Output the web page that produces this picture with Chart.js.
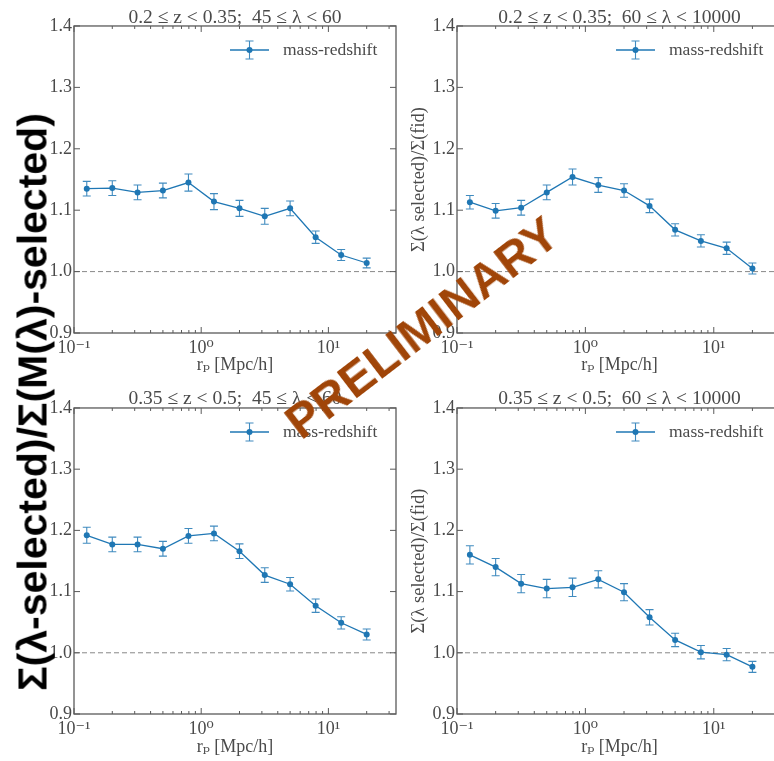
<!DOCTYPE html>
<html><head><meta charset="utf-8">
<script src="https://cdn.jsdelivr.net/npm/chart.js@4/dist/chart.umd.min.js"></script>
<style>
html,body{margin:0;padding:0;background:#fff;overflow:hidden;}
#wrap{position:relative;width:774px;height:761px;overflow:hidden;background:#fff;}
canvas{position:absolute;}
#biglabel{position:absolute;left:33px;top:402px;transform:translate(-50%,-50%) rotate(-90deg);font:bold 41px "Liberation Sans",Arial,sans-serif;white-space:nowrap;color:#000;line-height:1;}
#prelim{position:absolute;left:422px;top:328px;transform:translate(-50%,-50%) rotate(-37.5deg);font:bold 48px "Liberation Sans",Arial,sans-serif;white-space:nowrap;color:#a04508;line-height:1;}
</style></head><body>
<div id="wrap">
<canvas id="c1" width="400" height="380" style="left:0;top:0"></canvas>
<canvas id="c2" width="400" height="380" style="left:390px;top:0"></canvas>
<canvas id="c3" width="400" height="381" style="left:0;top:380px"></canvas>
<canvas id="c4" width="400" height="381" style="left:390px;top:380px"></canvas>
<div id="biglabel">Σ(λ-selected)/Σ(M(λ)-selected)</div>
<div id="prelim">PRELIMINARY</div>
</div>
<script>
// ---- data ----
const rp = [0.126, 0.2, 0.316, 0.5, 0.794, 1.26, 2.0, 3.16, 5.0, 7.94, 12.6, 20.0];
const ratioA = [1.135, 1.136, 1.129, 1.132, 1.145, 1.114, 1.103, 1.090, 1.103, 1.056, 1.027, 1.014];
const errA   = [0.012, 0.012, 0.012, 0.012, 0.014, 0.013, 0.013, 0.013, 0.012, 0.010, 0.009, 0.008];
const ratioB = [1.113, 1.099, 1.104, 1.129, 1.154, 1.141, 1.132, 1.107, 1.068, 1.050, 1.038, 1.005];
const errB   = [0.011, 0.012, 0.012, 0.012, 0.013, 0.012, 0.011, 0.011, 0.010, 0.010, 0.010, 0.009];
const ratioC = [1.192, 1.177, 1.177, 1.170, 1.191, 1.195, 1.166, 1.127, 1.112, 1.077, 1.049, 1.030];
const errC   = [0.013, 0.012, 0.012, 0.012, 0.012, 0.012, 0.012, 0.012, 0.011, 0.011, 0.010, 0.009];
const ratioD = [1.160, 1.140, 1.113, 1.105, 1.107, 1.120, 1.099, 1.058, 1.021, 1.001, 0.997, 0.977];
const errD   = [0.015, 0.014, 0.015, 0.015, 0.015, 0.014, 0.014, 0.0125, 0.011, 0.011, 0.010, 0.009];
const panelTitles = [
  '0.2 ≤ z < 0.35;  45 ≤ λ < 60',
  '0.2 ≤ z < 0.35;  60 ≤ λ < 10000',
  '0.35 ≤ z < 0.5;  45 ≤ λ < 60',
  '0.35 ≤ z < 0.5;  60 ≤ λ < 10000'
];
const xTickValues = [0.1, 1, 10];
const xTickLabels = ['10⁻¹', '10⁰', '10¹'];
const xMinorTicks = [0.2,0.3,0.4,0.5,0.6,0.7,0.8,0.9,2,3,4,5,6,7,8,9,20,30];
const yTickValues = [0.9, 1.0, 1.1, 1.2, 1.3, 1.4];
const xMin = 0.1, xMax = 34, yMin = 0.9, yMax = 1.4;
const refLevel = 1.0;
const legendLabel = 'mass-redshift';
const xAxisTitle = 'rₚ [Mpc/h]';
const yAxisTitleRight = 'Σ(λ selected)/Σ(fid)';

// ---- style ----
const BLUE = '#1f77b4';
const SERIF = '"Liberation Serif", "DejaVu Serif", serif';
const FRAME = '#5a5a5a';
const TEXT = '#4a4a4a';

const decor = {
  id: 'decor',
  beforeDatasetsDraw(chart) {
    const ctx = chart.ctx, xs = chart.scales.x, ys = chart.scales.y;
    const ds = chart.data.datasets[0];
    ctx.save();
    ctx.strokeStyle = BLUE; ctx.globalAlpha = 0.85; ctx.lineWidth = 1.1;
    ds.data.forEach((p, i) => {
      const e = ds.errorBars[i];
      const px = xs.getPixelForValue(p.x);
      const y1 = ys.getPixelForValue(p.y - e), y2 = ys.getPixelForValue(p.y + e);
      ctx.beginPath();
      ctx.moveTo(px, y1); ctx.lineTo(px, y2);
      ctx.moveTo(px - 4, y1); ctx.lineTo(px + 4, y1);
      ctx.moveTo(px - 4, y2); ctx.lineTo(px + 4, y2);
      ctx.stroke();
    });
    ctx.restore();
  },
  afterDraw(chart) {
    const ctx = chart.ctx, a = chart.chartArea, xs = chart.scales.x, ys = chart.scales.y;
    ctx.save();
    ctx.strokeStyle = FRAME; ctx.lineWidth = 1.3;
    ctx.strokeRect(a.left, a.top, a.right - a.left, a.bottom - a.top);
    ctx.lineWidth = 1;
    ctx.beginPath();
    xTickValues.forEach(v => {
      const px = xs.getPixelForValue(v);
      ctx.moveTo(px, a.bottom); ctx.lineTo(px, a.bottom - 6);
      ctx.moveTo(px, a.top); ctx.lineTo(px, a.top + 6);
    });
    xMinorTicks.forEach(v => {
      if (v > xMax) return;
      const px = xs.getPixelForValue(v);
      ctx.moveTo(px, a.bottom); ctx.lineTo(px, a.bottom - 3);
      ctx.moveTo(px, a.top); ctx.lineTo(px, a.top + 3);
    });
    yTickValues.forEach(v => {
      const py = ys.getPixelForValue(v);
      ctx.moveTo(a.left, py); ctx.lineTo(a.left + 6, py);
      ctx.moveTo(a.right, py); ctx.lineTo(a.right - 6, py);
    });
    ctx.stroke();
    // legend
    const ly = a.top + 24, lx = a.right - 166;
    ctx.strokeStyle = BLUE; ctx.fillStyle = BLUE; ctx.lineWidth = 1.3;
    ctx.beginPath(); ctx.moveTo(lx, ly); ctx.lineTo(lx + 39, ly); ctx.stroke();
    const cx = lx + 19.5;
    ctx.lineWidth = 1.1; ctx.globalAlpha = 0.85;
    ctx.beginPath();
    ctx.moveTo(cx, ly - 9); ctx.lineTo(cx, ly + 9);
    ctx.moveTo(cx - 4, ly - 9); ctx.lineTo(cx + 4, ly - 9);
    ctx.moveTo(cx - 4, ly + 9); ctx.lineTo(cx + 4, ly + 9);
    ctx.stroke();
    ctx.globalAlpha = 1;
    ctx.beginPath(); ctx.arc(cx, ly, 3, 0, Math.PI * 2); ctx.fill();
    ctx.fillStyle = TEXT; ctx.font = '17.5px ' + SERIF; ctx.textBaseline = 'middle'; ctx.textAlign = 'left';
    ctx.fillText(legendLabel, a.right - 113, ly);
    ctx.restore();
  }
};

function makePanel(id, title, yvals, errs, o) {
  return new Chart(document.getElementById(id), {
    type: 'line',
    data: { datasets: [
      { label: legendLabel, data: rp.map((x, i) => ({ x: x, y: yvals[i] })), errorBars: errs,
        borderColor: BLUE, backgroundColor: BLUE, borderWidth: 1.3, pointRadius: 3, pointBorderWidth: 0,
        tension: 0, order: 1 },
      { label: 'ref', data: [{ x: xMin, y: refLevel }, { x: xMax, y: refLevel }],
        borderColor: '#888', borderDash: [5, 3], borderWidth: 1, pointRadius: 0, order: 2 }
    ] },
    options: {
      responsive: false, animation: false, events: [],
      layout: { padding: { left: 0, right: o.padRight, top: 0, bottom: 0 } },
      plugins: {
        legend: { display: false }, tooltip: { enabled: false },
        title: { display: true, fullSize: false, text: title, color: TEXT,
                 font: { family: SERIF, size: 19.5, lineHeight: 0.85, weight: 'normal' },
                 padding: { top: o.tTop, bottom: o.tBottom } }
      },
      scales: {
        x: { type: 'logarithmic', min: xMin, max: xMax,
             grid: { display: false, drawTicks: false }, border: { display: false },
             afterBuildTicks: s => { s.ticks = xTickValues.map(v => ({ value: v })); },
             ticks: { callback: v => { const i = xTickValues.indexOf(v); return i >= 0 ? xTickLabels[i] : ''; },
                      font: { family: SERIF, size: 18 }, color: TEXT, padding: 4, maxRotation: 0, autoSkip: false },
             title: { display: true, text: xAxisTitle, color: TEXT, font: { family: SERIF, size: 18 },
                      padding: { top: 0, bottom: o.xtB } },
             afterFit: s => { s.height = o.xH; } },
        y: { min: yMin, max: yMax,
             grid: { display: false, drawTicks: false }, border: { display: false },
             afterBuildTicks: s => { s.ticks = yTickValues.map(v => ({ value: v })); },
             ticks: { callback: v => Number(v).toFixed(1), font: { family: SERIF, size: 18 }, color: TEXT, padding: 2 },
             title: { display: o.yTitle, text: yAxisTitleRight, color: TEXT, font: { family: SERIF, size: 18.5 },
                      padding: { top: 17.9, bottom: 0 } },
             afterFit: s => { s.width = o.yW; } }
      }
    },
    plugins: [decor]
  });
}

makePanel('c1', panelTitles[0], ratioA, errA, { padRight: 1, tTop: 9.4, tBottom: 0, xH: 47, xtB: 4.2, yW: 74, yTitle: false });
makePanel('c2', panelTitles[1], ratioB, errB, { padRight: 8, tTop: 9.4, tBottom: 0, xH: 47, xtB: 4.2, yW: 67, yTitle: true });
makePanel('c3', panelTitles[2], ratioC, errC, { padRight: 1, tTop: 10.4, tBottom: 1, xH: 47, xtB: 3.2, yW: 74, yTitle: false });
makePanel('c4', panelTitles[3], ratioD, errD, { padRight: 8, tTop: 10.4, tBottom: 1, xH: 47, xtB: 3.2, yW: 67, yTitle: true });
</script>
</body></html>
